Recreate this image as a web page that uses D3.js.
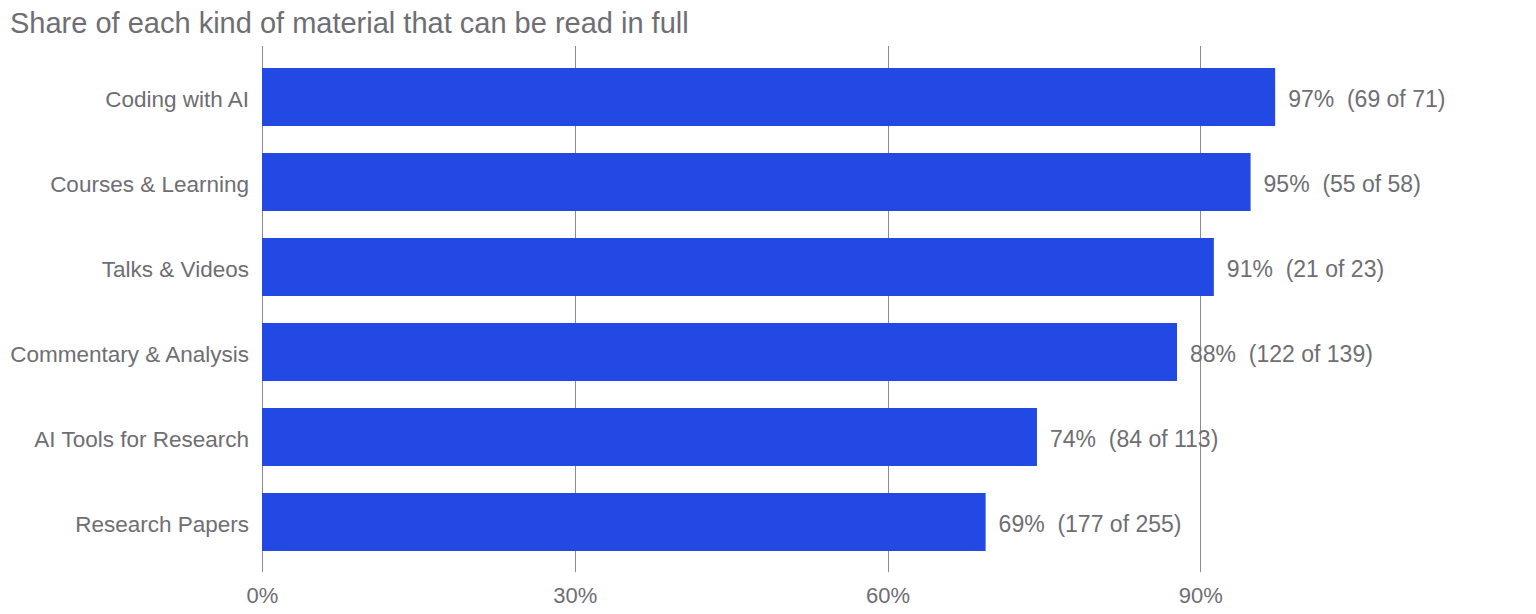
<!DOCTYPE html>
<html>
<head>
<meta charset="utf-8">
<script src="https://cdn.jsdelivr.net/npm/d3@7"></script>
<style>
  body { margin: 0; background: #fff; }
  text { font-family: "Liberation Sans", Arial, sans-serif; fill: #6e6e73; }
</style>
</head>
<body>
<div id="chart"></div>
<script>
// chart data
var categories = ["Coding with AI", "Courses & Learning", "Talks & Videos",
                  "Commentary & Analysis", "AI Tools for Research", "Research Papers"];
var readable = [69, 55, 21, 122, 84, 177];
var totals = [71, 58, 23, 139, 113, 255];
var tickValues = [0, 0.3, 0.6, 0.9];

var svgWidth = 1536, svgHeight = 614;
var margin = { top: 46, bottom: 42, left: 262, right: 24 };

var data = categories.map(function (c, i) {
    return { name: c, n: readable[i], total: totals[i], share: readable[i] / totals[i] };
});

var svg = d3.select("#chart").append("svg")
    .attr("width", svgWidth)
    .attr("height", svgHeight);

var xScale = d3.scaleLinear()
    .domain([0, 1.2])
    .range([margin.left, margin.left + 1251]);

var yScale = d3.scaleBand()
    .domain(categories)
    .range([68, 551])
    .paddingInner(27 / 85)
    .paddingOuter(0);

// title
svg.append("text")
    .attr("x", 10)
    .attr("y", 33)
    .attr("font-size", "29px")
    .text("Share of each kind of material that can be read in full");

// gridlines
svg.append("g").selectAll("line")
    .data(tickValues)
    .enter()
    .append("line")
    .attr("x1", d => Math.round(xScale(d)) + 0.5)
    .attr("x2", d => Math.round(xScale(d)) + 0.5)
    .attr("y1", margin.top)
    .attr("y2", svgHeight - margin.bottom)
    .attr("stroke", "#8c8c8c")
    .attr("stroke-width", 1);

// x axis tick labels
var xAxis = d3.axisBottom(xScale)
    .tickValues(tickValues)
    .tickFormat(d3.format(".0%"))
    .tickSize(0)
    .tickPadding(0);

var xAxisGroup = svg.append("g")
    .attr("transform", `translate(0, ${svgHeight - margin.bottom + 15})`)
    .call(xAxis);
xAxisGroup.select(".domain").remove();
xAxisGroup.selectAll("text")
    .attr("font-size", "22px")
    .attr("font-family", null)
    .attr("fill", null);

// bars
svg.append("g").selectAll("rect")
    .data(data)
    .enter()
    .append("rect")
    .attr("x", xScale(0))
    .attr("y", d => yScale(d.name))
    .attr("width", d => xScale(d.share) - xScale(0))
    .attr("height", yScale.bandwidth())
    .attr("fill", "#2349e5");

// category labels
var yAxis = d3.axisLeft(yScale).tickSize(0).tickPadding(13);
var yAxisGroup = svg.append("g")
    .attr("transform", `translate(${margin.left}, 0)`)
    .call(yAxis);
yAxisGroup.select(".domain").remove();
yAxisGroup.selectAll("text")
    .attr("font-size", "22.5px")
    .attr("dy", "0.43em")
    .attr("font-family", null)
    .attr("fill", null);

// value labels
svg.append("g").selectAll("text")
    .data(data)
    .enter()
    .append("text")
    .attr("x", d => xScale(d.share) + 13)
    .attr("y", d => yScale(d.name) + yScale.bandwidth() / 2)
    .attr("dy", "0.43em")
    .attr("font-size", "23px")
    .style("white-space", "pre")
    .text(d => d3.format(".0%")(d.share) + "  (" + d.n + " of " + d.total + ")");
</script>
</body>
</html>
